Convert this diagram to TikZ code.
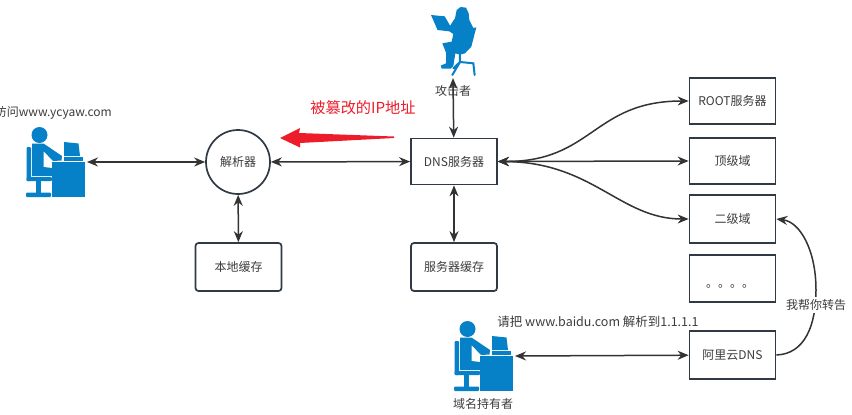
\documentclass[tikz,border=0pt]{standalone}
\usepackage{fontspec}
\setmainfont{Noto Sans CJK SC}
\usetikzlibrary{arrows.meta}
\definecolor{edgeink}{HTML}{2F3A45}
\definecolor{lineink}{HTML}{333333}
\definecolor{textink}{HTML}{3C3C3C}
\definecolor{iconblue}{HTML}{0681C8}
\definecolor{alarm}{HTML}{ED1C2A}
\tikzset{
  x=1pt,y=-1pt,
  every node/.style={text=textink,font=\fontsize{12}{14}\selectfont,inner sep=0pt},
  srv/.style={draw=edgeink,line width=1.7pt,fill=white,minimum width=86pt,minimum height=46pt,align=center},
  srvr/.style={srv,rounded corners=3pt},
  hub/.style={draw=edgeink,line width=1.7pt,fill=white,circle,minimum size=64pt},
  link/.style={draw=lineink,line width=1.5pt,{Stealth[length=11pt,width=9pt]}-{Stealth[length=11pt,width=9pt]}},
  onelink/.style={draw=lineink,line width=1.5pt,-{Stealth[length=11pt,width=9pt]}},
  icon/.style={fill=iconblue,draw=none},
}
% Seated person at a desk, drawn around the origin of the enclosing scope
\newcommand{\deskuser}{%
  \fill[icon] (39.5,135) circle (8);
  \fill[icon,rounded corners=1pt] (26.5,147) rectangle (31,181);
  \fill[icon,rounded corners=1pt] (26.5,177) rectangle (52,181);
  \fill[icon] (32,143.5) -- (43.5,143.5) -- (62,156) -- (61.5,160.5) -- (53,161) -- (43.5,151) -- (43.5,167) -- (52,168) -- (52,176) -- (32,176) -- cycle;
  \fill[icon] (36,181) rectangle (41,193);
  \fill[icon,rounded corners=1pt] (26,192.5) rectangle (51,197);
  \fill[icon] (52,162) rectangle (85,197);
  \fill[icon] (64,157) rectangle (83,161);
  \fill[icon] (64,142) -- (78.5,143.5) -- (80,156) -- (64,156) -- cycle;
}
\begin{document}
\begin{tikzpicture}
\useasboundingbox (0,0) rectangle (852,415);
\fill[white] (0,0) rectangle (852,415);

% Client and domain owner
\begin{scope}\deskuser\end{scope}
\begin{scope}[shift={(428pt,-194pt)}]\deskuser\end{scope}
\coordinate (client) at (87,162);
\coordinate (owner) at (515,356);

% Attacker silhouette with laptop and swivel chair
\begin{scope}[shift={(410pt,0pt)},x=0.3333pt,y=-0.3333pt]
  \fill[icon] (63,45) -- (104,49) -- (122,80) -- (80,84) -- cycle;
  \fill[icon] (140,30) -- (152,21) -- (168,23) -- (176,40) -- (178,60) -- (190,84) -- (199,82) -- (184,140) -- (165,160) -- (150,164) -- (136,160) -- (130,198) -- (122,206) -- (95,206) -- (92,197) -- (108,190) -- (108,158) -- (97,130) -- (125,125) -- (130,102) -- (118,94) -- (82,90) -- (80,80) -- (120,78) -- (128,65) -- (135,55) -- cycle;
  \draw[iconblue,line width=2pt,line cap=round] (150,160) -- (150,186) (150,186) -- (127,225) (150,186) -- (190,190) -- (194,225) (150,186) -- (130,205);
\end{scope}
\coordinate (attacker) at (453,78);

% Servers and caches
\node[hub]  (resolver) at (238,162) {解析器};
\node[srv]  (dns)      at (454,161.5) {DNS服务器};
\node[srvr] (local)    at (238.5,267) [minimum height=48pt] {本地缓存};
\node[srvr] (dnscache) at (454,267) [minimum height=48pt] {服务器缓存};
\node[srv]  (root)     at (732.5,101) {ROOT服务器};
\node[srv]  (tld)      at (732.5,161) {顶级域};
\node[srv]  (sld)      at (732.5,219) [minimum height=48pt] {二级域};
\node[srv]  (more)     at (732.5,278.5) [minimum height=47pt] {};
\node[srv]  (ali)      at (732.5,355) [minimum height=48pt] {阿里云DNS};
\node[anchor=base west] (dots) at (706,287) {。。。。};

% Connectors
\draw[link] (client) -- (resolver);
\draw[link] (resolver) -- (dns);
\draw[link] (resolver) -- (local);
\draw[link] (dns) -- (dnscache);
\draw[link] (dns) -- (attacker);
\draw[link] (owner) -- (ali);
\draw[link] (dns.east) .. controls (593,162) and (593,101) .. (root.west);
\draw[link] (dns.east) -- (tld.west);
\draw[link] (dns.east) .. controls (593,162) and (620,219) .. (sld.west);
\path[onelink] (ali.east) .. controls (805,354) and (816,325) .. (816,290) .. controls (816,250) and (800,222) .. (sld.east);

% Forged answer arrow, tapering toward its tail
\fill[alarm] (280,138) -- (300,128) -- (299,133) -- (394,136.5) -- (394,138) -- (300,143) -- (300,147.5) -- cycle;

% Labels
\node[anchor=east] (visit) at (112,113) {访问www.ycyaw.com};
\node (atklabel) at (453,91) {攻击者};
\node[font=\fontsize{15.2}{17}\selectfont,text=alarm] (forged) at (363,108) {被篡改的IP地址};
\node[font=\fontsize{12.5}{15}\selectfont] (ask) at (598,322) {请把 www.baidu.com 解析到1.1.1.1};
\node (ownerlabel) at (483,404) {域名持有者};
\node[fill=white,inner ysep=2pt] (relay) at (816,305) {我帮你转告};
\end{tikzpicture}
\end{document}
